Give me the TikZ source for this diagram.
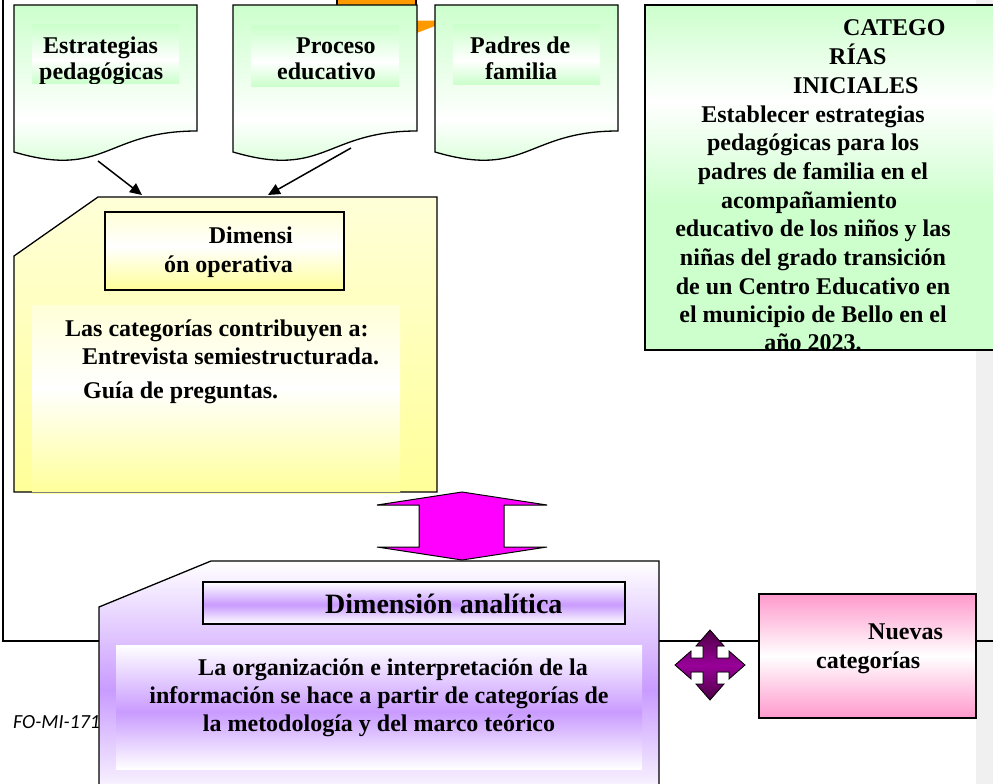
\documentclass[tikz,border=0pt]{standalone}
\usepackage{fontspec}
\setmainfont{Liberation Serif}
\newfontfamily\calfont{Carlito}
\usetikzlibrary{arrows.meta}
\definecolor{gB}{HTML}{CCFFCC}
\definecolor{yB}{HTML}{FFFF99}
\definecolor{yL}{HTML}{FFFFD8}
\definecolor{pB}{HTML}{C99BFF}
\definecolor{pkB}{HTML}{FF99CC}
\definecolor{magA}{HTML}{FF00FF}
\definecolor{orgB}{HTML}{FF9900}
\definecolor{grayM}{HTML}{F0F0F0}
\definecolor{dpur}{HTML}{990099}
\definecolor{dpurD}{HTML}{4D0045}
\pgfdeclareverticalshading{gdoc}{100bp}{color(0bp)=(gB); color(25bp)=(gB); color(42bp)=(white); color(75bp)=(gB); color(100bp)=(gB)}
\pgfdeclareverticalshading{gbig}{100bp}{color(0bp)=(gB); color(25bp)=(gB); color(46bp)=(gB); color(61bp)=(white); color(75bp)=(gB); color(100bp)=(gB)}
\pgfdeclareverticalshading{gtxt}{100bp}{color(0bp)=(gB); color(25bp)=(gB); color(45bp)=(white); color(75bp)=(gB); color(100bp)=(gB)}
\pgfdeclareverticalshading{ytxt}{100bp}{color(0bp)=(yB); color(25bp)=(yB); color(53bp)=(white); color(75bp)=(yL); color(100bp)=(yL)}
\pgfdeclareverticalshading{purp}{100bp}{color(0bp)=(white); color(25bp)=(white); color(48bp)=(pB); color(75bp)=(white); color(100bp)=(white)}
\tikzset{
  txt/.style={font=\bfseries\fontsize{24}{28}\selectfont, inner sep=0pt, text=black},
  blk/.style={draw=black, line width=1.3pt},
  cnx/.style={line width=1.5pt, -{Triangle[length=12pt,width=11pt]}},
}
\begin{document}
\begin{tikzpicture}[x=1pt,y=-1pt]
\useasboundingbox (0,0) rectangle (993,784);
\clip (0,0) rectangle (993,784);
% margin band and frame
\fill[grayM] (976,0) rectangle (993,784);
\draw[line width=1.2pt] (3,-10) -- (3,641) -- (1000,641);
% orange pieces
\filldraw[fill=orgB, draw=black, line width=1.2pt] (337,-10) rectangle (416,10);
\fill[orgB] (416,20.7) -- (435,20.7) -- (435,26) -- (416,33.3) -- cycle;
% document shapes
\foreach \xa/\xb/\nm in {14/197/d1, 233/417/d2, 435/618/d3}{
  \pgfmathsetmacro{\xm}{(\xa+\xb)/2}
  \draw[blk, shading=gdoc] (\xa,5) -- (\xb,5) -- (\xb,131) .. controls (\xm,131) and (\xm,179) .. (\xa,152) -- cycle;
}
\fill[shading=gtxt] (32,25) rectangle (179,83);
\fill[shading=gtxt] (251,26) rectangle (399,86);
\fill[shading=gtxt] (453,25) rectangle (600,84);
\begin{scope}
\clip (32,25) rectangle (179,83);
\node[txt, anchor=base west] (t1a) at (43,53) {Estrategias};
\node[txt, anchor=base west] (t1b) at (39,79) {pedagógicas};
\end{scope}
\node[txt, anchor=base west] (t2a) at (296,53) {Proceso};
\node[txt, anchor=base west] (t2b) at (277,79) {educativo};
\node[txt, anchor=base west] (t3a) at (470,53) {Padres de};
\node[txt, anchor=base west] (t3b) at (485,79) {familia};
% big green box
\draw[shading=gbig, draw=black, line width=2pt] (645,5) rectangle (997,350);
\begin{scope}
\clip (645,5) rectangle (997,350);
\node[txt, anchor=base west] (c1) at (843,36) {CATEGO};
\node[txt, anchor=base west] (c2) at (829,65) {RÍAS};
\node[txt, anchor=base west] (c3) at (793,93) {INICIALES};
\node[txt, anchor=base] (b1) at (813,122) {Establecer estrategias};
\node[txt, anchor=base] (b2) at (813,150.5) {pedagógicas para los};
\node[txt, anchor=base] (b3) at (813,179) {padres de familia en el};
\node[txt, anchor=base] (b4) at (809,208) {acompañamiento};
\node[txt, anchor=base] (b5) at (813,236.5) {educativo de los niños y las};
\node[txt, anchor=base] (b6) at (813,265) {niñas del grado transición};
\node[txt, anchor=base] (b7) at (813,294) {de un Centro Educativo en};
\node[txt, anchor=base] (b8) at (813,322.5) {el municipio de Bello en el};
\node[txt, anchor=base] (b9) at (813,350) {año 2023.};
\end{scope}
\draw[draw=black, line width=2pt] (645,5) rectangle (997,350);
% arrows
\coordinate (a1s) at (98,161); \coordinate (a1e) at (142,195);
\coordinate (a2s) at (351,148); \coordinate (a2e) at (268,195);
\draw[cnx] (a1s) -- (a1e);
\draw[cnx] (a2s) -- (a2e);
% yellow shape
\draw[blk, top color=yL, bottom color=yB] (98,197) -- (437,197) -- (437,492) -- (14,492) -- (14,256) -- cycle;
\fill[shading=ytxt] (32,305) rectangle (400,493);
\draw[gray, line width=0.8pt] (32,492) -- (400,492);
\draw[blk, shading=ytxt] (105,212) rectangle (344,290);
\node[txt, anchor=base east] (o1) at (293,243) {Dimensi};
\node[txt, anchor=base east] (o2) at (293,272) {ón operativa};
\node[txt, anchor=base west] (o3) at (65,336) {Las categorías contribuyen a:};
\node[txt, anchor=base west] (o4) at (82,364) {Entrevista semiestructurada.};
\node[txt, anchor=base west] (o5) at (83,398) {Guía de preguntas.};
% magenta double arrow
\filldraw[fill=magA, draw=black, line width=1pt, line join=miter]
  (462,492) -- (547,505) -- (504,505) -- (504,547) -- (547,547) -- (462,560)
  -- (377,547) -- (419,547) -- (419,505) -- (377,505) -- cycle;
% footer code
\node[font=\calfont\itshape\fontsize{20}{24}\selectfont, anchor=base west, inner sep=0pt, text=black] (fo) at (13,728) {FO-MI-171};
% purple shape
\draw[blk, shading=purp] (211,561) -- (659,561) -- (659,800) -- (99,800) -- (99,607) -- cycle;
\draw[blk, shading=purp] (203,582) rectangle (625,624);
\node[font=\bfseries\fontsize{28}{32}\selectfont, anchor=base west, inner sep=0pt] (da) at (325,613) {Dimensión analítica};
\fill[shading=purp] (116,645) rectangle (642,769);
\node[txt, anchor=base] (p1) at (393,675) {La organización e interpretación de la};
\node[txt, anchor=base] (p2) at (379,703) {información se hace a partir de categorías de};
\node[txt, anchor=base] (p3) at (379,731) {la metodología y del marco teórico};
% four-way arrow
\begin{scope}[shift={(710,665)}]
\filldraw[draw=black, line width=0.8pt, top color=dpurD, bottom color=dpurD, middle color=dpur, line join=miter]
  (-7,-7) -- (-7,-19) -- (-14,-19) -- (0,-35) -- (14,-19) -- (7,-19) -- (7,-7)
  -- (19,-7) -- (19,-14) -- (35,0) -- (19,14) -- (19,7) -- (7,7)
  -- (7,19) -- (14,19) -- (0,35) -- (-14,19) -- (-7,19) -- (-7,7)
  -- (-19,7) -- (-19,14) -- (-35,0) -- (-19,-14) -- (-19,-7) -- cycle;
\end{scope}
% pink box
\draw[draw=black, line width=1.8pt, top color=pkB, bottom color=pkB, middle color=white] (759,594) rectangle (976,718);
\node[txt, anchor=base west] (n1) at (868,639) {Nuevas};
\node[txt, anchor=base west] (n2) at (816,668) {categorías};
\end{tikzpicture}
\end{document}
